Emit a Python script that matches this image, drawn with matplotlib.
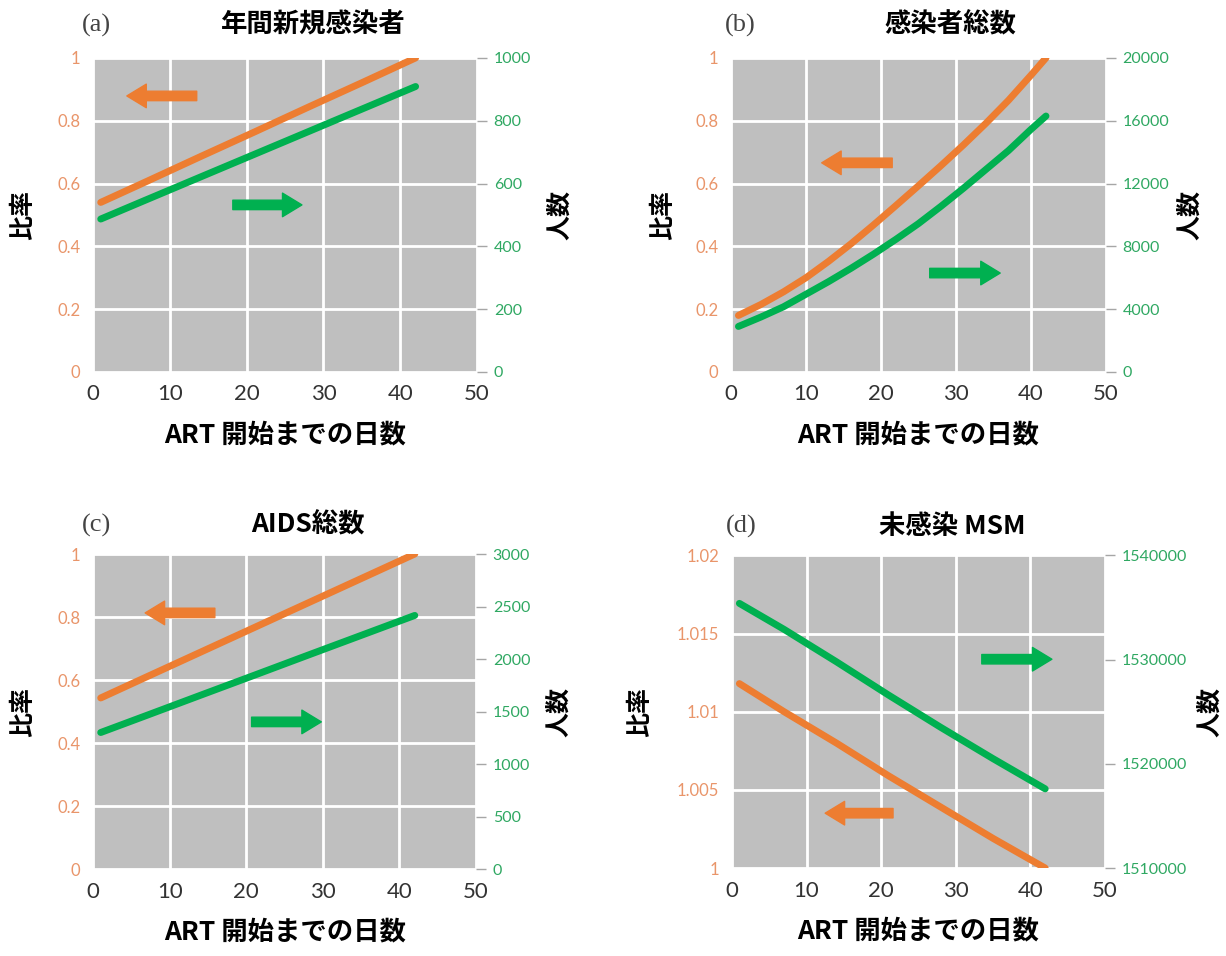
import numpy as np
import matplotlib
matplotlib.use("Agg")
import matplotlib.pyplot as plt

plt.rcParams['font.family'] = ['Noto Sans CJK JP', 'DejaVu Sans']

# days until ART start
days = [1, 7, 14, 21, 28, 35, 42]
days_b = [1, 4, 7, 10, 13, 16, 19, 22, 25, 28, 31, 34, 37, 40, 42]

# (a) annual new infections
a_ratio = [0.54, 0.607, 0.686, 0.764, 0.843, 0.921, 1.0]
a_count = [487, 549, 621, 693, 765, 837, 909]
# (b) total infected
b_ratio = [0.18, 0.215, 0.255, 0.300, 0.352, 0.408, 0.468, 0.530,
           0.593, 0.657, 0.723, 0.792, 0.865, 0.945, 1.0]
b_count = [2900, 3500, 4150, 4950, 5750, 6600, 7500, 8450,
           9450, 10550, 11700, 12900, 14100, 15450, 16300]
# (c) total AIDS
c_ratio = [0.543, 0.610, 0.688, 0.766, 0.844, 0.922, 1.0]
c_count = [1300, 1463, 1654, 1844, 2035, 2225, 2415]
# (d) uninfected MSM
d_ratio = [1.0118, 1.0100, 1.0080, 1.0059, 1.0039, 1.0019, 1.0000]
d_count = [1535400, 1532900, 1529800, 1526600, 1523500, 1520500, 1517600]

titles = ['年間新規感染者', '感染者総数', 'AIDS総数', '未感染 MSM']
tags = ['(a)', '(b)', '(c)', '(d)']
xs = [days, days_b, days, days]
ratios = [a_ratio, b_ratio, c_ratio, d_ratio]
counts = [a_count, b_count, c_count, d_count]
left_ticks = [np.arange(0, 1.01, 0.2), np.arange(0, 1.01, 0.2),
              np.arange(0, 1.01, 0.2), np.arange(1.0, 1.0201, 0.005)]
right_ticks = [np.arange(0, 1001, 200), np.arange(0, 20001, 4000),
               np.arange(0, 3001, 500), np.arange(1510000, 1540001, 10000)]
# arrow (tail x, head x, y on left axis)
orange_arrows = [(13.5, 4.4, 0.879), (21.5, 12.1, 0.666),
                 (15.9, 6.8, 0.813), (21.6, 12.5, 1.00351)]
green_arrows = [(18.2, 27.2, 0.532), (26.5, 35.9, 0.315),
                (20.7, 29.8, 0.467), (33.5, 42.9, 1.01336)]
title_x = [0.573, 0.584, 0.56, 0.59]
title_y = [1.105, 1.105, 1.092, 1.092]
left_lab_x = [-0.151, -0.149, -0.151, -0.214]
right_lab_x = [1.185, 1.192, 1.185, 1.249]

ORANGE = '#ED7D31'
GREEN = '#00B050'
ORANGE_TXT = '#E9956A'
GREEN_TXT = '#2FA862'
BG = '#BFBFBF'

positions = [[0.0759, 0.6109, 0.3132, 0.3285],
             [0.5962, 0.6109, 0.3059, 0.3285],
             [0.0759, 0.0910, 0.3124, 0.3295],
             [0.5970, 0.0920, 0.3042, 0.3270]]

fig = plt.figure(figsize=(12.26, 9.56), dpi=100)

for i in range(4):
    ax = fig.add_axes(positions[i])
    ax2 = ax.twinx()
    ax.set_facecolor(BG)
    ax.set_zorder(0)
    ax2.set_zorder(1)
    ax2.patch.set_visible(False)

    lt = left_ticks[i]
    rt = right_ticks[i]
    ax.set_xlim(0, 50)
    ax.set_ylim(lt[0], lt[-1])
    ax2.set_ylim(rt[0], rt[-1])
    ax.set_xticks(np.arange(0, 51, 10))
    ax.set_yticks(lt)
    ax.set_yticklabels(['%g' % round(v, 4) for v in lt])
    ax2.set_yticks(rt)
    ax2.set_yticklabels(['%d' % v for v in rt])

    ax.grid(True, color='white', linewidth=2)
    ax.set_axisbelow(True)
    for s in ax.spines.values():
        s.set_visible(False)
    for s in ax2.spines.values():
        s.set_visible(False)

    ax.tick_params(axis='x', length=0, pad=9, labelsize=16, labelcolor='#333333')
    ax.tick_params(axis='y', length=0, pad=9, labelsize=12, labelcolor=ORANGE_TXT)
    ax2.tick_params(axis='y', length=7, width=1, color='#A6A6A6', pad=5,
                    labelsize=11.5, labelcolor=GREEN_TXT)
    for lab in ax.get_xticklabels() + ax.get_yticklabels() + ax2.get_yticklabels():
        lab.set_family('Lato')

    ax.plot(xs[i], ratios[i], color=ORANGE, linewidth=5, solid_capstyle='round')
    ax2.plot(xs[i], counts[i], color=GREEN, linewidth=5, solid_capstyle='round')

    arrow_style = 'simple,head_length=0.7,head_width=0.85,tail_width=0.34'
    for (x0, x1, y), col in [(orange_arrows[i], ORANGE), (green_arrows[i], GREEN)]:
        ax2.annotate('', xy=(x1, y), xytext=(x0, y),
                     xycoords=ax.transData, textcoords=ax.transData,
                     arrowprops=dict(arrowstyle=arrow_style, color=col,
                                     mutation_scale=20, shrinkA=0, shrinkB=0))

    ax.set_xlabel('ART 開始までの日数', fontsize=19, fontweight='bold', labelpad=12)
    ax.set_ylabel('比率', fontsize=18, fontweight='bold')
    ax.yaxis.set_label_coords(left_lab_x[i], 0.5)
    ax2.set_ylabel('人数', fontsize=18, fontweight='bold', rotation=90)
    ax2.yaxis.set_label_coords(right_lab_x[i], 0.5)

    ax.text(title_x[i], title_y[i], titles[i], transform=ax.transAxes, ha='center',
            va='center', fontsize=19, fontweight='bold')
    ax.text(-0.03 if i % 2 == 0 else -0.016, title_y[i], tags[i],
            transform=ax.transAxes, ha='left', va='center', fontsize=19,
            family='Liberation Serif', color='#444444')

fig.savefig('out.png', dpi=100, facecolor='white')
